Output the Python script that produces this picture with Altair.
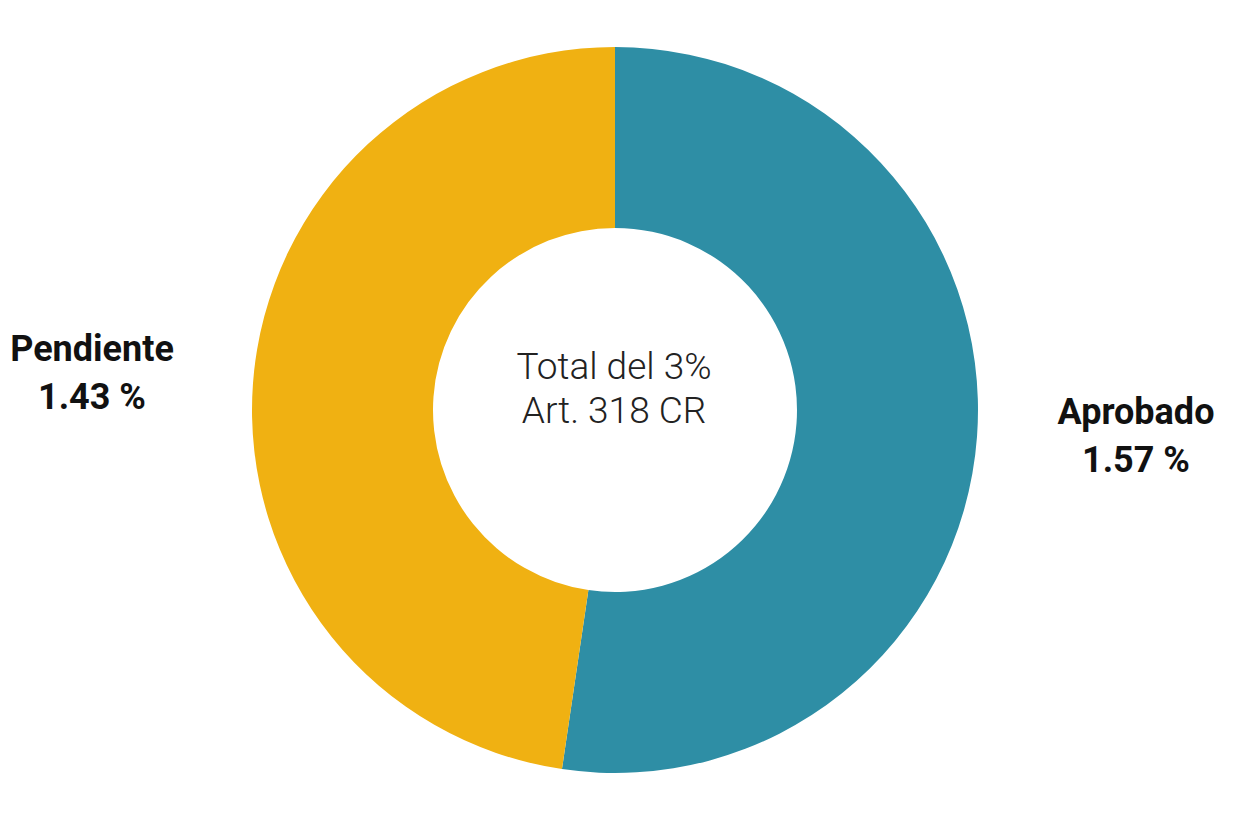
import altair as alt
import pandas as pd

categories = ["Aprobado", "Pendiente"]
values = [1.57, 1.43]
colors = ["#2E8EA5", "#F0B112"]

label_lines = [["Aprobado", "1.57 %"], ["Pendiente", "1.43 %"]]
center_lines = ["Total del 3%", "Art. 318 CR"]

df = pd.DataFrame({"cat": categories, "val": values, "order": [0, 1]})

CX, CY = 607, 402

donut = alt.Chart(df).mark_arc(outerRadius=363, innerRadius=182).encode(
    theta=alt.Theta("val:Q", stack=True),
    order=alt.Order("order:Q"),
    color=alt.Color("cat:N", scale=alt.Scale(domain=categories, range=colors), legend=None),
    x=alt.value(CX),
    y=alt.value(CY),
)

lab_df = pd.DataFrame({
    "text": [label_lines[1], label_lines[0]],
    "px": [84, 1128],
    "py": [342, 405],
})
labels = alt.Chart(lab_df).mark_text(
    font="Roboto, sans-serif", fontWeight="bold", fontSize=36,
    lineHeight=48, baseline="middle", align="center", color="#111111",
).encode(text="text", x=alt.X("px:Q", scale=None), y=alt.Y("py:Q", scale=None))

center_df = pd.DataFrame({"text": [center_lines], "px": [606], "py": [360]})
center = alt.Chart(center_df).mark_text(
    font="Roboto, sans-serif", fontWeight=300, fontSize=37,
    lineHeight=44, baseline="middle", align="center", color="#222222",
).encode(text="text", x=alt.X("px:Q", scale=None), y=alt.Y("py:Q", scale=None))

chart = alt.layer(donut, labels, center).properties(
    width=1230, height=820, padding=0, autosize=alt.AutoSizeParams(type="none")
).configure_view(stroke=None)

chart.save("out.html", embed_options={"renderer": "svg", "actions": False})
